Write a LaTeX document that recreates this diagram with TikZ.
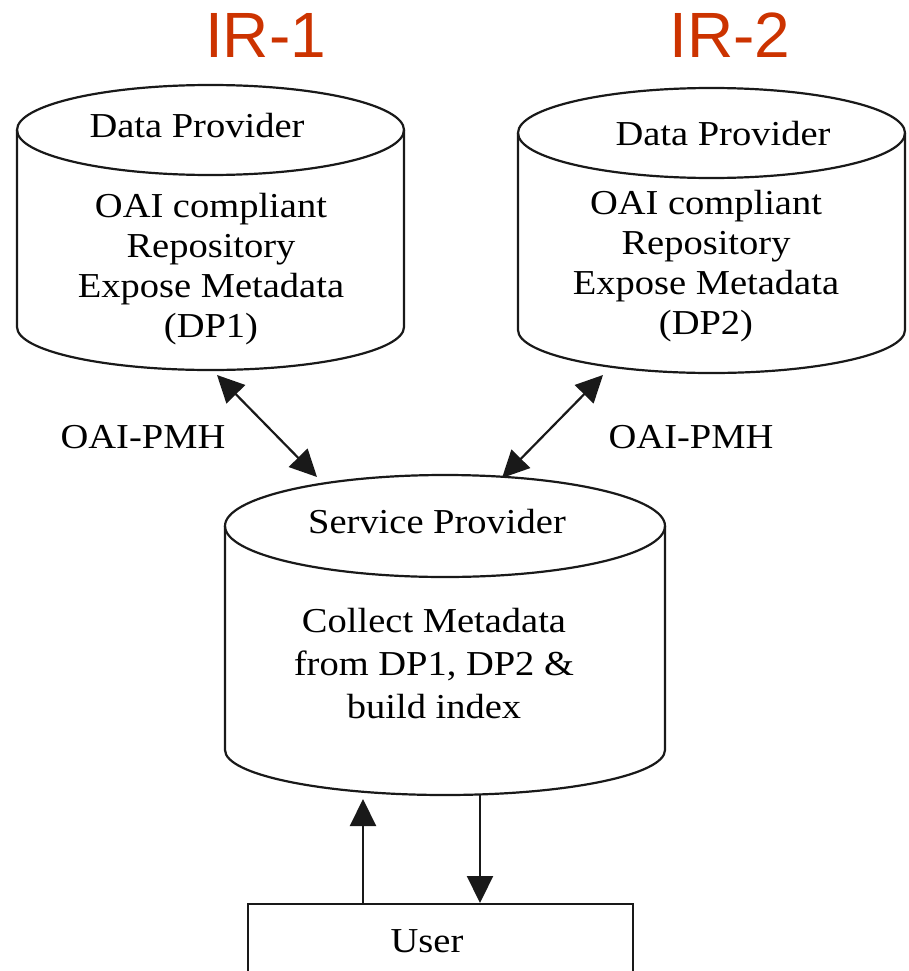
\documentclass[tikz,border=0pt]{standalone}
\usepackage{fontspec}
\setmainfont[FakeStretch=1.1]{Liberation Serif}
\newfontfamily\irfont{Liberation Sans}
\usetikzlibrary{arrows.meta}
\definecolor{irred}{RGB}{204,51,0}
\definecolor{lineclr}{RGB}{25,25,25}
\tikzset{
  outline/.style={draw=lineclr, line width=2.2pt},
  txt/.style={inner sep=0pt, font=\fontsize{35}{40}\selectfont, align=center, anchor=base},
  svctxt/.style={txt, font=\fontsize{35}{43}\selectfont},
  irlabel/.style={inner sep=0pt, anchor=base, text=irred, font=\irfont\fontsize{64}{70}\selectfont},
  conn/.style={draw=lineclr, line width=2.2pt},
  tip/.style={-{Triangle[length=27pt,width=26pt]}},
  tips/.style={{Triangle[length=27pt,width=26pt]}-{Triangle[length=27pt,width=26pt]}},
}
\begin{document}
\begin{tikzpicture}[x=1pt,y=1pt]
\clip (0,0) rectangle (909,-971);
\fill[white] (0,0) rectangle (909,-971);

% IR labels
\node[irlabel] (ir1) at (265.5,-58) {IR-1};
\node[irlabel] (ir2) at (730,-58) {IR-2};

% Left cylinder (DP1)
\draw[outline] (210.5,-130) ellipse (193.5pt and 45pt);
\draw[outline] (17,-130) -- (17,-327) arc (180:360:193.5pt and 43pt) -- (404,-130);
\node[txt] (dp1head) at (197,-137) {Data Provider};
\node[txt] (dp1body) at (211,-337) {OAI compliant\\Repository\\Expose Metadata\\(DP1)};

% Right cylinder (DP2)
\draw[outline] (711.5,-133) ellipse (193.5pt and 45pt);
\draw[outline] (518,-133) -- (518,-330) arc (180:360:193.5pt and 43pt) -- (905,-133);
\node[txt] (dp2head) at (723,-145) {Data Provider};
\node[txt] (dp2body) at (706,-334) {OAI compliant\\Repository\\Expose Metadata\\(DP2)};

% Service provider cylinder
\draw[outline] (445,-526) ellipse (220pt and 51pt);
\draw[outline] (225,-526) -- (225,-750) arc (180:360:220pt and 45pt) -- (665,-526);
\node[txt] (sphead) at (437,-533) {Service Provider};
\node[svctxt] (spbody) at (434,-718) {Collect Metadata\\from DP1, DP2 \&\\build index};

% User box
\node[outline, minimum width=385pt, minimum height=120pt, anchor=north, inner sep=0pt] (user) at (440.5,-903) {};
\node[txt] (usertext) at (427,-952) {User};

% Protocol labels
\node[txt] (pmh1) at (143,-448) {OAI-PMH};
\node[txt] (pmh2) at (691,-448) {OAI-PMH};

% Connector end points
\coordinate (dp1bot) at (217,-375);
\coordinate (dp2bot) at (603,-375);
\coordinate (sptopl) at (317,-477);
\coordinate (sptopr) at (502,-478);
\coordinate (spbotl) at (363,-799);
\coordinate (spbotr) at (480,-795);
\coordinate (userl) at (363,-903);
\coordinate (userr) at (480,-903);

% Connectors
\draw[conn, tips] (dp1bot) -- (sptopl);
\draw[conn, tips] (dp2bot) -- (sptopr);
\draw[conn, tip] (userl) -- (spbotl);
\draw[conn, tip] (spbotr) -- (userr);
\end{tikzpicture}
\end{document}
